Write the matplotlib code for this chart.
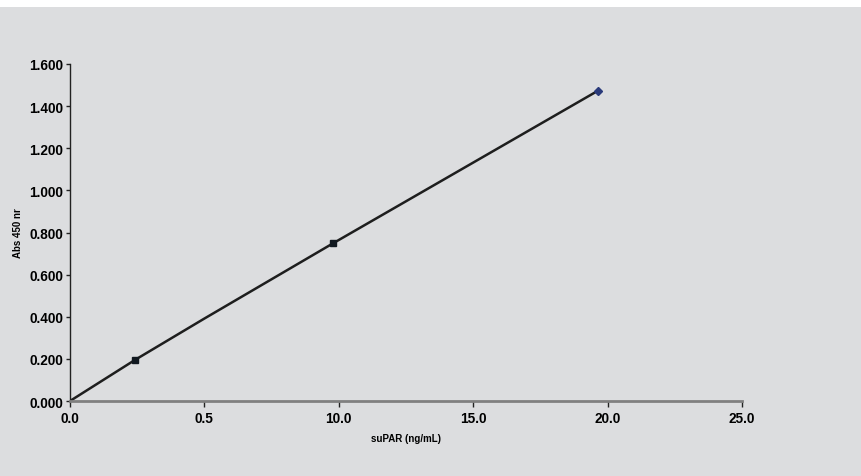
import matplotlib
matplotlib.use("Agg")
import matplotlib.pyplot as plt
from matplotlib.patches import Rectangle

# data
conc = [0.0, 2.43, 4.98, 9.79, 19.64]
absorb = [0.0, 0.196, 0.390, 0.749, 1.473]
sq_x = [2.43, 9.79]
sq_y = [0.196, 0.749]
top_x = [19.64]
top_y = [1.473]
xticks = [0, 5, 10, 15, 20, 25]
xtick_labels = ["0.0", "0.5", "10.0", "15.0", "20.0", "25.0"]
yticks = [0.0, 0.2, 0.4, 0.6, 0.8, 1.0, 1.2, 1.4, 1.6]
ytick_labels = ["0.000", "0.200", "0.400", "0.600", "0.800", "1.000", "1.200", "1.400", "1.600"]

bg = "#dcdddf"
plt.rcParams['font.family'] = ['Liberation Sans', 'DejaVu Sans']

fig = plt.figure(figsize=(8.62, 4.77), dpi=100, facecolor=bg)
fig.patches.append(Rectangle((0, 1 - 8/477), 1, 8/477, transform=fig.transFigure,
                             facecolor="white", edgecolor="none", zorder=-1))
ax = fig.add_axes([70/862, 1 - 402/477, 672/862, 337/477])
ax.set_facecolor(bg)

ax.plot(conc, absorb, color="#1e1e1e", lw=1.8, zorder=2)
ax.plot(sq_x, sq_y, ls="none", marker="s", ms=5, color="#111820", zorder=3)
ax.plot(top_x, top_y, ls="none", marker="D", ms=4.5, color="#2a3a7a", zorder=3)

ax.set_xlim(0, 25)
ax.set_ylim(0, 1.6)
ax.set_xticks(xticks)
ax.set_xticklabels(xtick_labels, fontsize=9.8, fontweight="bold")
ax.set_yticks(yticks)
ax.set_yticklabels(ytick_labels, fontsize=9.8, fontweight="bold")
ax.tick_params(axis="x", length=4, width=1, color="#222222", pad=3)
ax.tick_params(axis="y", length=3, width=1, color="#222222", pad=2)

for s in ["top", "right"]:
    ax.spines[s].set_visible(False)
ax.spines["left"].set_color("#222222")
ax.spines["left"].set_linewidth(1.0)
ax.spines["bottom"].set_color("#808080")
ax.spines["bottom"].set_linewidth(2.0)

ax.set_xlabel("suPAR (ng/mL)", fontsize=7, fontweight="bold", labelpad=6)
ax.set_ylabel("Abs 450 nr", fontsize=7, fontweight="bold", labelpad=4)

fig.savefig("out.png", dpi=100, facecolor=bg)
